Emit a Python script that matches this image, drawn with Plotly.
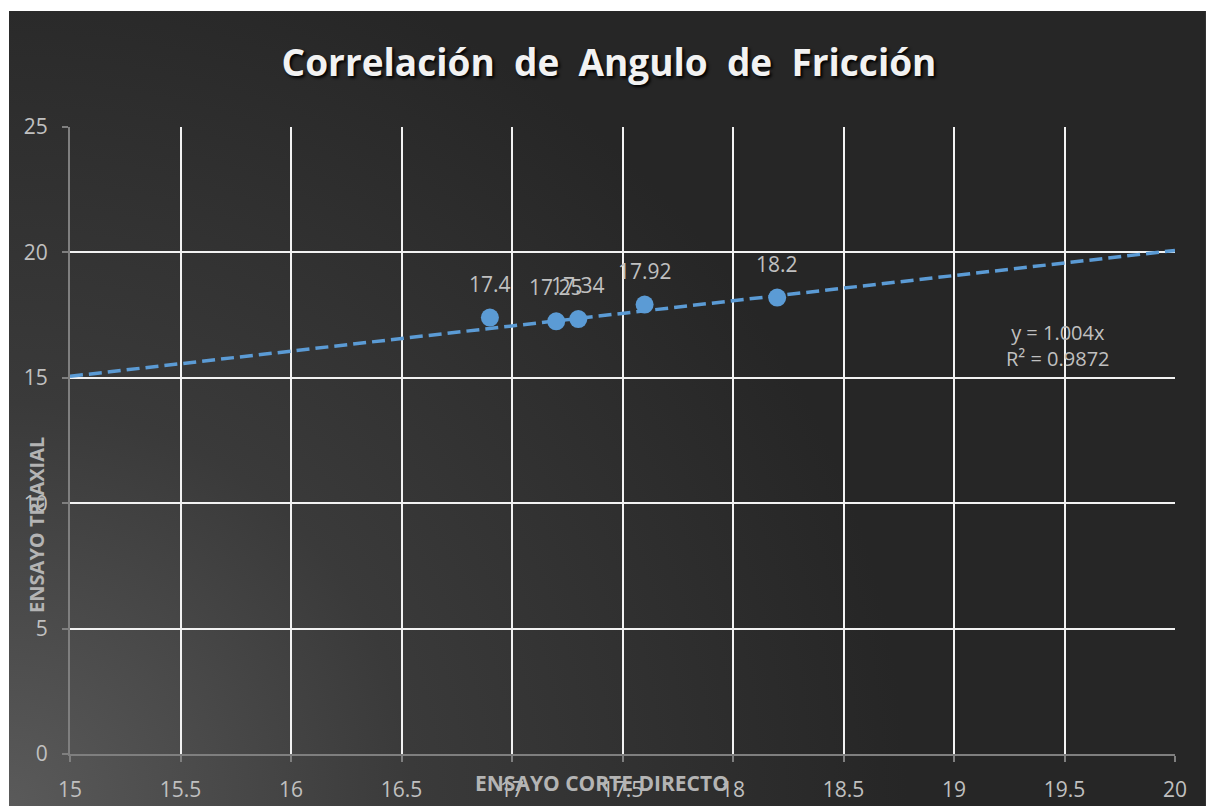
import base64
import plotly.graph_objects as go

# values
corte_directo = [16.9, 17.2, 17.3, 17.6, 18.2]
triaxial = [17.4, 17.25, 17.34, 17.92, 18.2]
slope = 1.004
r2 = 0.9872
trend_x = [15, 20]
trend_y = [slope * v for v in trend_x]

x_ticks = [15, 15.5, 16, 16.5, 17, 17.5, 18, 18.5, 19, 19.5, 20]
y_ticks = [0, 5, 10, 15, 20, 25]

grey = "#c0c0c0"
font = "Open Sans, Noto Sans, sans-serif"

# dark chart area with a soft glow in the lower-left corner
svg = (
    '<svg xmlns="http://www.w3.org/2000/svg" width="1197" height="795" viewBox="0 0 1197 795" '
    'preserveAspectRatio="none">'
    '<defs><radialGradient id="g" cx="0.0" cy="1.0" r="0.75" gradientUnits="objectBoundingBox" '
    'gradientTransform="translate(0,1) scale(1,1.5) translate(0,-1)">'
    '<stop offset="0" stop-color="#5a5a5a"/><stop offset="0.45" stop-color="#3a3a3a"/>'
    '<stop offset="1" stop-color="#262626"/></radialGradient></defs>'
    '<rect width="1197" height="795" fill="url(#g)"/></svg>'
)
bg_src = "data:image/svg+xml;base64," + base64.b64encode(svg.encode()).decode()

fig = go.Figure()
fig.add_trace(go.Scatter(
    x=trend_x, y=trend_y, mode="lines",
    line=dict(color="#5B9BD5", width=3.5, dash="13px,6px"),
    hoverinfo="skip", showlegend=False,
))
fig.add_trace(go.Scatter(
    x=corte_directo, y=triaxial, mode="markers",
    marker=dict(size=18, color="#5B9BD5"),
    showlegend=False,
))

axis_common = dict(
    showgrid=True, gridcolor="#f2f2f2", gridwidth=1.5,
    showline=True, linecolor="#7f7f7f", linewidth=2,
    ticks="outside", tickcolor="#7f7f7f", ticklen=6, tickwidth=2,
    tickfont=dict(size=21, color=grey, family=font),
    zeroline=False, automargin=False,
)
fig.update_xaxes(range=[15, 20], tickvals=x_ticks, ticktext=[f"{v:g}" for v in x_ticks],
                 ticklabelstandoff=10, **axis_common)
fig.update_yaxes(range=[0, 25], tickvals=y_ticks, ticklabelstandoff=10, **axis_common)

labels = [
    dict(text=f"{yv:g}", x=xv, y=yv, xref="x", yref="y", yshift=34, showarrow=False,
         xanchor="center", yanchor="middle", font=dict(size=21, color=grey, family=font))
    for xv, yv in zip(corte_directo, triaxial)
]

fig.update_layout(
    width=1206, height=806,
    margin=dict(l=70, r=31, t=127, b=52),
    paper_bgcolor="white", plot_bgcolor="rgba(0,0,0,0)",
    title=dict(
        text="<b>Correlación&nbsp; de&nbsp; Angulo&nbsp; de&nbsp; Fricción</b>",
        x=0.505, xanchor="center", y=0.922, yanchor="middle",
        font=dict(size=37, color="#f2f2f2", family=font, shadow="2px 2px 3px #000000"),
    ),
    images=[dict(
        source=bg_src, xref="paper", yref="paper",
        x=-0.0552, y=1.185, sizex=1.0832, sizey=1.268,
        xanchor="left", yanchor="top", sizing="stretch", layer="below",
    )],
    annotations=labels + [
        dict(text="<b>ENSAYO CORTE DIRECTO</b>", xref="paper", yref="paper",
             x=0.481, y=-0.046, xanchor="center", yanchor="middle", showarrow=False,
             font=dict(size=21, color="#b4b4b4", family=font)),
        dict(text="<b>ENSAYO TRIAXIAL</b>", xref="paper", yref="paper",
             x=-0.031, y=0.365, xanchor="center", yanchor="middle", textangle=-90,
             showarrow=False, font=dict(size=20, color="#b4b4b4", family=font)),
        dict(text=f"y = {slope}x<br>R² = {r2}", xref="x", yref="y",
             x=19.47, y=16.3, xanchor="center", yanchor="middle", showarrow=False,
             align="center", font=dict(size=20, color=grey, family=font)),
    ],
)

fig.write_html("out.html", config={"displayModeBar": False},
               post_script="document.body.style.margin='0';")
